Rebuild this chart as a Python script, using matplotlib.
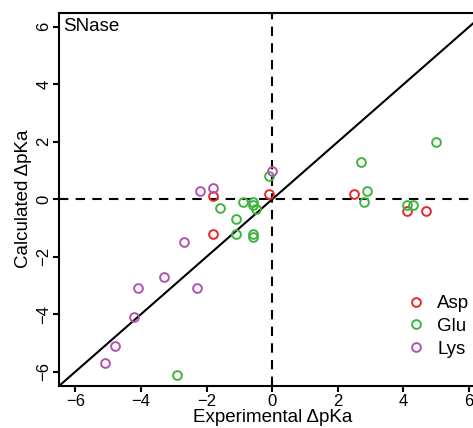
import numpy as np
import matplotlib.pyplot as plt

plt.rcParams['font.family'] = ['Liberation Sans', 'DejaVu Sans']

# experimental vs calculated pKa shifts
asp_exp = [-1.8, -1.8, -0.1, 2.5, 4.1, 4.7]
asp_calc = [0.1, -1.2, 0.2, 0.2, -0.4, -0.4]

glu_exp = [-1.6, -0.9, -0.6, -0.6, -0.5, -1.1, -1.1, -0.6, -0.6, -0.1,
           2.7, 5.0, 2.9, 2.8, 4.1, 4.3, -2.9]
glu_calc = [-0.3, -0.1, -0.1, -0.2, -0.35, -0.7, -1.2, -1.2, -1.3, 0.8,
            1.3, 2.0, 0.3, -0.1, -0.2, -0.2, -6.1]

lys_exp = [-2.2, -1.8, 0.0, -2.7, -3.3, -4.1, -2.3, -4.2, -4.8, -5.1]
lys_calc = [0.3, 0.4, 1.0, -1.5, -2.7, -3.1, -3.1, -4.1, -5.1, -5.7]

groups = ['Asp', 'Glu', 'Lys']
colors = ['#E8262B', '#3DB53D', '#B452AE']
ticks = [-6, -4, -2, 0, 2, 4, 6]

fig = plt.figure(figsize=(4.73, 4.28), dpi=100)
ax = fig.add_axes([59 / 473, 42 / 428, 426.5 / 473, 373.5 / 428])
ax.set_xlim(-6.5, 6.5)
ax.set_ylim(-6.5, 6.5)

ax.axhline(0, color='black', lw=1.5, ls=(0, (4.5, 3.5)), zorder=1)
ax.axvline(0, color='black', lw=1.5, ls=(0, (4.5, 3.5)), zorder=1)
ax.plot([-6.5, 6.5], [-6.5, 6.5], color='black', lw=1.5, zorder=1)

data = [(asp_exp, asp_calc), (glu_exp, glu_calc), (lys_exp, lys_calc)]
for (xs, ys), name, c in zip(data, groups, colors):
    ax.plot(xs, ys, 'o', ms=6.3, mfc='none', mec=c, mew=1.4, label=name,
            zorder=3)

for s in ax.spines.values():
    s.set_linewidth(1.5)

ax.set_xticks(ticks)
ax.set_yticks(ticks)
ax.tick_params(direction='out', length=4.5, width=1.5, labelsize=12, pad=1)
plt.setp(ax.get_yticklabels(), rotation=90, va='center')

ax.set_xlabel('Experimental ΔpKa', fontsize=13.5, labelpad=0.5)
ax.set_ylabel('Calculated ΔpKa', fontsize=13.5, labelpad=3)

ax.text(0.01, 0.985, 'SNase', transform=ax.transAxes, fontsize=13.5,
        ha='left', va='top')

ax.legend(loc='upper left', bbox_to_anchor=(407 / 473, 1 - 295 / 428),
          bbox_transform=fig.transFigure, frameon=False, fontsize=13.5,
          handlelength=1.0, handletextpad=0.6, labelspacing=0.3,
          borderpad=0, borderaxespad=0)

fig.savefig('out.png', dpi=100)
